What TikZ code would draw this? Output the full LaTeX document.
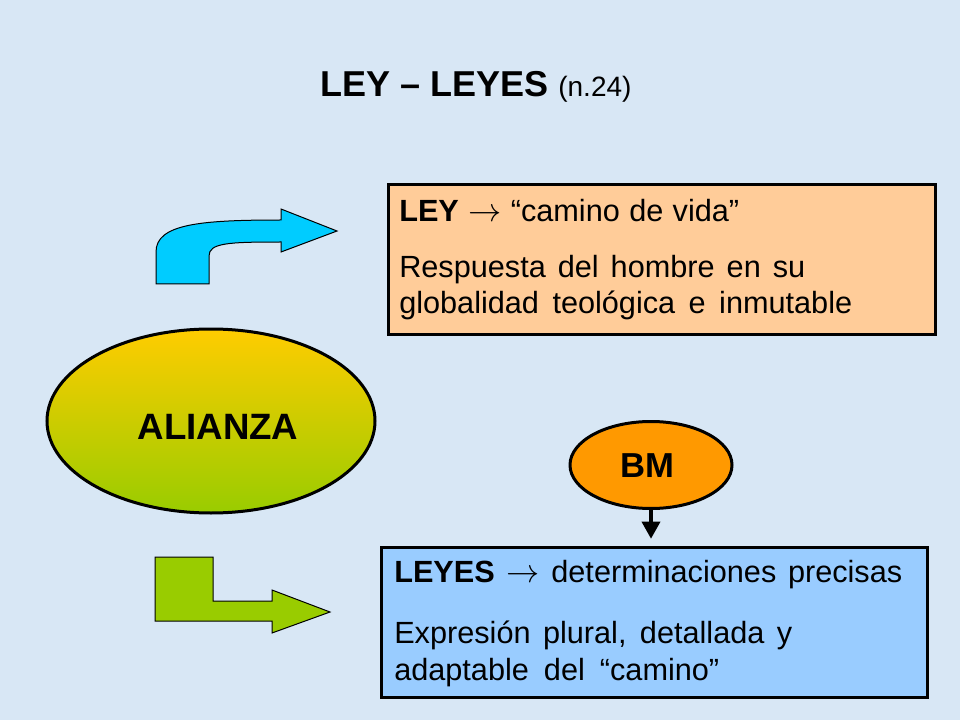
\documentclass[tikz,border=0pt]{standalone}
\usepackage{fontspec}
\setmainfont{Liberation Sans}
\usetikzlibrary{shapes.geometric,arrows.meta}
\definecolor{bg}{HTML}{D8E7F5}
\definecolor{peach}{HTML}{FFCC99}
\definecolor{skyb}{HTML}{99CCFF}
\definecolor{orng}{HTML}{FF9900}
\definecolor{cyanarr}{HTML}{00CCFF}
\definecolor{lime}{HTML}{99CC00}
\definecolor{gold}{HTML}{FFCC00}
\tikzset{
  box/.style={draw=black,line width=2.25pt,rectangle,inner sep=0pt},
  oval/.style={draw=black,ellipse,line width=2.25pt,inner sep=0pt},
  txt/.style={anchor=base west,inner sep=0pt,font=\fontsize{23}{27}\selectfont},
  shapearrow/.style={draw=black,line width=0.75pt},
}
\newcommand{\jline}[2]{\makebox[#1][s]{#2}}
\newcommand{\rarr}{$\rightarrow$}
\begin{document}
\begin{tikzpicture}[x=0.75pt,y=-0.75pt]
\fill[bg] (0,0) rectangle (960,720);
\useasboundingbox (0,0) rectangle (960,720);
% title
\node[anchor=base west,inner sep=0pt] (title) at (320,97)
  {\fontsize{27}{31}\selectfont\bfseries LEY – LEYES \fontsize{21}{25}\mdseries\selectfont(n.24)};
% boxes
\node[box,fill=peach,minimum width=410.25pt,minimum height=111.75pt] (ley) at (661.5,259.5) {};
\node[box,fill=skyb,minimum width=409.5pt,minimum height=112.5pt] (leyes) at (654,622) {};
\node[txt] (l1) at (399,222) {\jline{255pt}{\textbf{LEY} \rarr{} “camino de vida”}};
\node[txt] (l2) at (399,278) {\jline{304.5pt}{Respuesta del hombre en su}};
\node[txt] (l3) at (399,314) {\jline{339.75pt}{globalidad teológica e inmutable}};
\node[txt] (m1) at (394,582) {\jline{381pt}{\textbf{LEYES} \rarr{} determinaciones precisas}};
\node[txt] (m2) at (394,643) {\jline{298.5pt}{Expresión plural, detallada y}};
\node[txt] (m3) at (394,680) {\jline{243.75pt}{adaptable del “camino”}};
% ellipses
\node[oval,top color=gold,bottom color=lime,minimum width=246pt,minimum height=138pt] (alianza) at (211,421) {};
\node[anchor=base,inner sep=0pt,font=\fontsize{27.5}{32}\selectfont\bfseries] (alt) at (218,439) {ALIANZA};
\node[oval,fill=orng,minimum width=121.5pt,minimum height=65.25pt] (bm) at (651,465) {};
\node[anchor=base,inner sep=0pt,font=\fontsize{26}{30}\selectfont\bfseries] (bmt) at (647,477) {BM};
\draw[line width=3pt,-{Triangle[width=13.5pt,length=13pt]}] (bm.south) -- ([yshift=5pt]bm.south |- leyes.north);
% shape arrows
\filldraw[shapearrow,fill=cyanarr] (156,284) -- (156,252) .. controls (156,224) and (200,220) .. (281,220)
  -- (281,209) -- (337,231) -- (281,252) -- (281,242) .. controls (228,242) and (209,243) .. (209,256) -- (209,284) -- cycle;
\filldraw[shapearrow,fill=lime] (155,557) -- (213,557) -- (213,601) -- (272,601) -- (272,590) -- (330,612)
  -- (272,633) -- (272,621) -- (155,621) -- cycle;
\end{tikzpicture}
\end{document}
